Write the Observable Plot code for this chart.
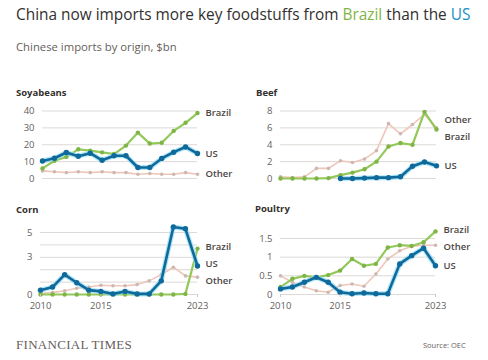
<!DOCTYPE html>
<html><head><meta charset="utf-8">
<script src="https://cdn.jsdelivr.net/npm/d3@7"></script>
<script src="https://cdn.jsdelivr.net/npm/@observablehq/plot@0.6"></script>
<style>
body{margin:0;background:#fff;}
#c{position:relative;width:488px;height:360px;font-family:"Open Sans",sans-serif;overflow:hidden;background:#fff;}
.abs{position:absolute;white-space:nowrap;}
.ptitle{font-size:9.5px;font-weight:700;color:#33302e;line-height:12px;}
</style></head><body><div id="c"></div>
<script>
const years = [2010,2011,2012,2013,2014,2015,2016,2017,2018,2019,2020,2021,2022,2023];
const xTicks = [2010,2015,2023];

const soyBrazil = [6.0,10.5,12.8,17.3,16.5,15.5,14.5,19.5,27.2,20.7,21.2,28.2,33.0,38.8];
const soyUS     = [10.4,12.0,15.4,13.2,15.0,10.8,13.5,13.5,6.5,6.5,11.9,15.6,18.7,14.8];
const soyOther  = [4.5,4.0,3.5,4.0,3.5,4.0,3.5,3.5,2.5,3.0,2.5,2.5,3.5,2.5];

const beefBrazil = [0,0,0,0,0.05,0.4,0.7,1.1,2.0,3.8,4.2,4.0,7.9,5.8];
const beefUS     = [null,null,null,null,null,0,0,0.05,0.1,0.1,0.2,1.45,1.95,1.5];
const beefOther  = [0.2,0.1,0.2,1.2,1.2,2.1,1.9,2.3,3.3,6.5,5.3,6.4,7.6,6.0];

const cornBrazil = [0,0,0,0,0,0,0,0,0,0,0,0,0.05,3.7];
const cornUS     = [0.35,0.6,1.6,0.95,0.35,0.25,0.05,0.25,0.05,0.05,1.1,5.45,5.3,2.3];
const cornOther  = [0.1,0.15,0.3,0.5,0.6,0.75,0.7,0.7,0.8,1.1,1.6,2.2,1.5,1.4];

const poultryBrazil = [0.2,0.42,0.5,0.46,0.52,0.64,0.95,0.77,0.82,1.26,1.32,1.3,1.4,1.69];
const poultryUS     = [0.15,0.2,0.33,0.46,0.33,0.06,0.02,0.04,0.02,0.02,0.82,1.04,1.24,0.77];
const poultryOther  = [0.5,0.33,0.2,0.1,0.06,0.24,0.28,0.22,0.55,0.95,1.17,1.29,1.32,1.32];

const soyGrid = [0,10,20,30,40], soyLabels = [0,10,20,30,40];
const beefGrid = [0,2,4,6,8], beefLabels = [0,2,4,6,8];
const cornGrid = [0,1,2,3,4,5], cornLabels = [0,3,5];
const poultryGrid = [0,0.5,1,1.5], poultryLabels = [0,0.5,1,1.5];

const C = {Brazil:"#93c85a", BrazilDot:"#7fb547", US:"#0f6a9b", USHalo:"#8fdbf3", Other:"#efc6b9", OtherDot:"#cbb8b1"};
const root = document.getElementById("c");

function addText(txt, css, cls){
  const d = document.createElement("div");
  d.className = "abs " + (cls||"");
  d.style.cssText += css;
  d.innerHTML = txt;
  root.appendChild(d);
  return d;
}

function rows(arr, name){
  return years.map((y,i)=>({year:y, value:arr[i], series:name})).filter(d=>d.value!=null);
}

function panel(o){
  const {brazil, us, other, yMax, grid, labels, left, top, w, h, mL, mR, mT, mB, xAxis} = o;
  const rb = rows(brazil,"Brazil"), ru = rows(us,"US"), ro = rows(other,"Other");
  const inner = h - mT - mB;
  const py = v => mT + (1 - v/yMax)*inner;
  const pv = p => yMax*(1 - (p - mT)/inner);
  let labs = [
    {name:"Brazil", p: py(brazil[brazil.length-1])},
    {name:"US", p: py(us[us.length-1])},
    {name:"Other", p: py(other[other.length-1])}
  ].sort((a,b)=>a.p-b.p);
  const gap = 17;
  for (let it=0; it<50; it++){
    for (let i=1;i<labs.length;i++){
      const d = labs[i].p - labs[i-1].p;
      if (d < gap){ const s=(gap-d)/2; labs[i-1].p -= s; labs[i].p += s; }
    }
  }
  const labRows = labs.map(l=>({year:2023, value:pv(l.p), name:l.name}));
  const marks = [
    Plot.gridY(grid, {stroke:"#dcd9d6", strokeOpacity:1, strokeWidth:1}),
    Plot.axisY(labels, {tickSize:0, tickPadding:8, fontSize:9.5, fill:"#66605c", label:null, tickFormat:d=>String(d)}),
    Plot.line(ro, {x:"year", y:"value", stroke:C.Other, strokeWidth:1.6}),
    Plot.dot(ro, {x:"year", y:"value", r:1.8, fill:C.OtherDot}),
    Plot.line(rb, {x:"year", y:"value", stroke:C.Brazil, strokeWidth:2.2}),
    Plot.dot(rb, {x:"year", y:"value", r:2.2, fill:C.BrazilDot}),
    Plot.line(ru, {x:"year", y:"value", stroke:C.USHalo, strokeWidth:5, strokeOpacity:0.7}),
    Plot.line(ru, {x:"year", y:"value", stroke:C.US, strokeWidth:2.6}),
    Plot.dot(ru, {x:"year", y:"value", r:2.7, fill:C.US}),
    Plot.text(labRows, {x:"year", y:"value", text:"name", dx:8, textAnchor:"start", fontSize:9.5, fontWeight:600, fill:"#4d4845"})
  ];
  if (xAxis) marks.push(Plot.axisX(xTicks, {tickSize:3, tickPadding:5, stroke:"#cfcac6", fill:"#66605c", fontSize:9.5, label:null, tickFormat:d=>String(d)}));
  const svg = Plot.plot({
    width:w, height:h, marginLeft:mL, marginRight:mR, marginTop:mT, marginBottom:mB,
    style:{background:"transparent", fontFamily:"'Open Sans', sans-serif", overflow:"visible"},
    x:{domain:[2010,2023], axis:null, label:null},
    y:{domain:[0,yMax], axis:null, label:null},
    marks
  });
  const wrap = document.createElement("div");
  wrap.className = "abs";
  wrap.style.left = left+"px"; wrap.style.top = top+"px";
  wrap.appendChild(svg);
  root.appendChild(wrap);
}

addText('China now imports more key foodstuffs from <span style="color:#7fb547">Brazil</span> than the <span style="color:#1a8fc4">US</span>',
  "left:16px;top:6px;font-size:15.4px;line-height:18px;color:#33302e;");
addText("Chinese imports by origin, $bn", "left:16px;top:40px;font-size:11.3px;line-height:13px;color:#66605c;");

addText("Soyabeans", "left:16px;top:87px;", "ptitle");
addText("Beef", "left:256px;top:87px;", "ptitle");
addText("Corn", "left:16px;top:204px;", "ptitle");
addText("Poultry", "left:255px;top:203px;", "ptitle");

panel({brazil:soyBrazil, us:soyUS, other:soyOther, yMax:40, grid:soyGrid, labels:soyLabels,
  left:0, top:100, w:244, h:90, mL:42, mR:47, mT:10.5, mB:12, xAxis:false});
panel({brazil:beefBrazil, us:beefUS, other:beefOther, yMax:8, grid:beefGrid, labels:beefLabels,
  left:244, top:100, w:244, h:90, mL:36, mR:52, mT:10.5, mB:12, xAxis:false});
panel({brazil:cornBrazil, us:cornUS, other:cornOther, yMax:5, grid:cornGrid, labels:cornLabels,
  left:0, top:222, w:244, h:95, mL:40, mR:47, mT:10, mB:23, xAxis:true});
panel({brazil:poultryBrazil, us:poultryUS, other:poultryOther, yMax:1.5, grid:poultryGrid, labels:poultryLabels,
  left:244, top:222, w:244, h:95, mL:36, mR:53, mT:16, mB:23, xAxis:true});

addText("FINANCIAL TIMES", "left:16px;top:338px;font-family:'Liberation Serif',serif;font-size:13px;line-height:14px;color:#66605c;letter-spacing:0.3px;");
addText("Source: OEC", "left:423px;top:340px;font-size:7.5px;line-height:10px;color:#66605c;");
</script></body></html>
